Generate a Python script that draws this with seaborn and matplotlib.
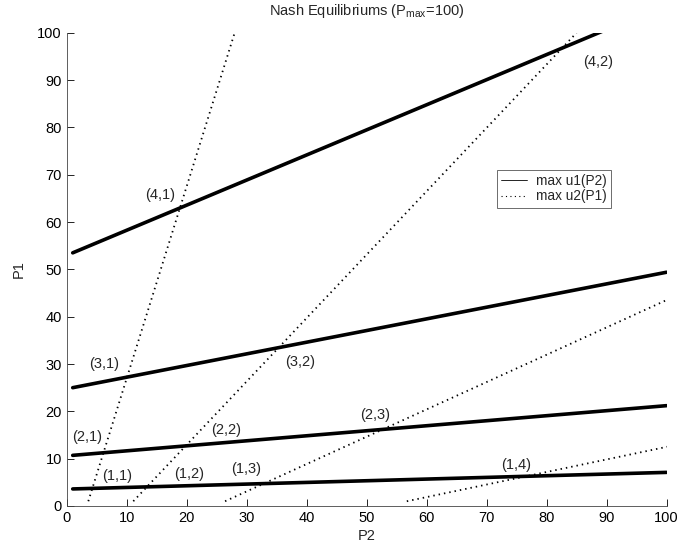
import numpy as np
import pandas as pd
import matplotlib
matplotlib.use("Agg")
import matplotlib.pyplot as plt
from matplotlib.lines import Line2D
import seaborn as sns

sns.set_style("ticks")
plt.rcParams['font.family'] = ['Liberation Sans', 'DejaVu Sans']
plt.rcParams['mathtext.fontset'] = 'custom'
plt.rcParams['mathtext.rm'] = 'Liberation Sans'

# best response of player 1: P1 as a function of P2 (values at P2=1 and P2=100)
p2_ends = [1, 100]
u1_start = [3.6, 10.7, 25.0, 53.5]
u1_end = [7.1, 21.2, 49.4, 106.0]

# best response of player 2: P2 as a function of P1 (values at P1=1 and P1=100)
p1_ends = [1, 100]
u2_start = [3.6, 11.1, 26.4, 56.7]
u2_end = [28.0, 85.0, 197.8, 430.0]

# equilibrium labels
eq_labels = ['(4,1)', '(4,2)', '(3,1)', '(3,2)', '(2,1)', '(2,2)', '(2,3)',
             '(1,1)', '(1,2)', '(1,3)', '(1,4)']
eq_x = [15.5, 88.6, 6.2, 38.9, 3.4, 26.6, 51.4, 8.4, 20.4, 29.9, 74.9]
eq_y = [65.7, 93.9, 30.0, 30.4, 14.6, 16.1, 19.2, 6.3, 6.8, 7.8, 8.7]

fig = plt.figure(figsize=(6.95, 5.47), dpi=100)
ax = fig.add_axes([0.096, 0.075, 0.863, 0.865])

for a, b in zip(u1_start, u1_end):
    sns.lineplot(x=p2_ends, y=[a, b], color='black', lw=2.6, ax=ax, sort=False)
for a, b in zip(u2_start, u2_end):
    sns.lineplot(x=[a, b], y=p1_ends, color='black', lw=1.3, ax=ax, sort=False,
                 linestyle=(0, (0.8, 2.2)))

for lab, x, y in zip(eq_labels, eq_x, eq_y):
    ax.text(x, y, lab, ha='center', va='center', fontsize=10.5)

ax.set_xlim(0, 100)
ax.set_ylim(0, 100)
ax.set_xticks(np.arange(0, 101, 10))
ax.set_yticks(np.arange(0, 101, 10))
ax.tick_params(direction='in', length=5, width=0.6, labelsize=10.5, colors='black')
for s in ['left', 'bottom']:
    ax.spines[s].set_linewidth(0.6)
    ax.spines[s].set_color('#444444')
sns.despine(ax=ax)

ax.set_xlabel('P2', fontsize=10.5, labelpad=3)
ax.set_ylabel('P1', fontsize=10.5, labelpad=8)
ax.set_title(r'Nash Equilibriums (P$_{\rm max}$=100)', fontsize=10.5, pad=13)

handles = [Line2D([], [], color='black', lw=0.6),
           Line2D([], [], color='black', lw=0.8, linestyle=(0, (1, 3)))]
leg = ax.legend(handles, ['max u1(P2)', 'max u2(P1)'], loc='upper left',
                bbox_to_anchor=(0.717, 0.71), fontsize=9.8, fancybox=False,
                framealpha=1, edgecolor='#555555', handlelength=1.9,
                borderpad=0.3, labelspacing=0.1, handletextpad=0.7,
                borderaxespad=0)
leg.get_frame().set_linewidth(0.6)

fig.savefig('out.png', dpi=100)
